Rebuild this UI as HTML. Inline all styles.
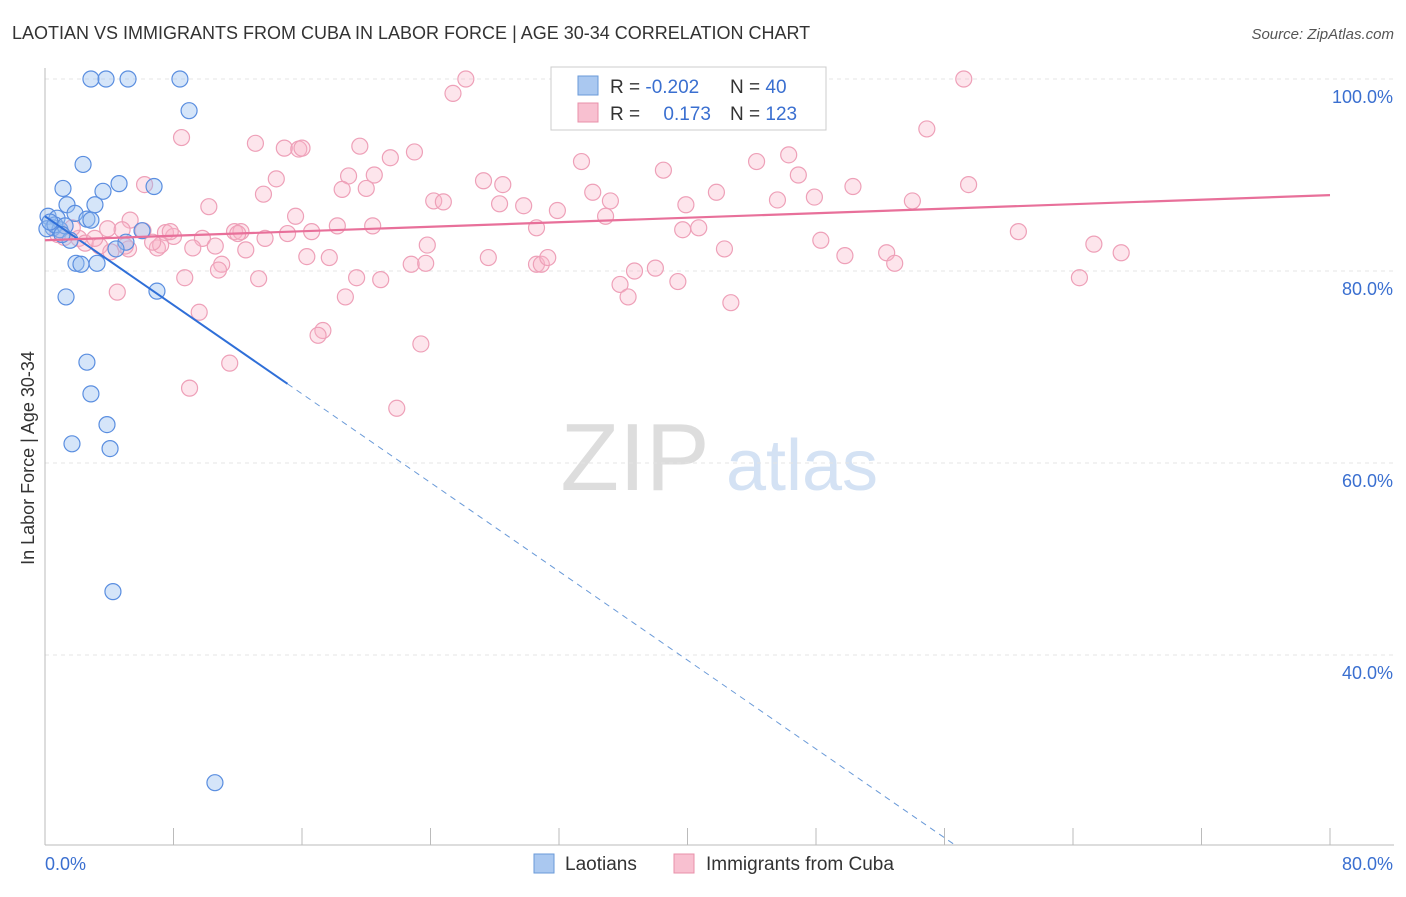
<!DOCTYPE html>
<html><head><meta charset="utf-8"><style>
body{margin:0;background:#fff;font-family:"Liberation Sans",sans-serif;}
svg text{font-family:"Liberation Sans",sans-serif;}
</style></head><body>
<svg id="chart" width="1406" height="892" xmlns="http://www.w3.org/2000/svg">
<text x="12" y="39" font-size="18" fill="#333">LAOTIAN VS IMMIGRANTS FROM CUBA IN LABOR FORCE | AGE 30-34 CORRELATION CHART</text>
<text x="1394" y="39" font-size="15" fill="#555" font-style="italic" text-anchor="end">Source: ZipAtlas.com</text>
<text x="34" y="458" font-size="18" fill="#333" text-anchor="middle" transform="rotate(-90 34 458)">In Labor Force | Age 30-34</text>
<g>
<text x="635" y="490" font-size="96" fill="#ddd" font-family="Liberation Serif" text-anchor="middle">ZIP</text>
<text x="802" y="490" font-size="72" fill="#d4e2f4" text-anchor="middle">atlas</text></g>
<g id="grid"></g><g id="axes"></g><g id="pts"></g><g id="trend"></g>
<g>
<rect x="551" y="67" width="275" height="63" fill="#fff" stroke="#ccc"/>
<rect x="578" y="76" width="20" height="19" fill="#aac8f0" stroke="#6a9ad8"/>
<rect x="578" y="103" width="20" height="19" fill="#f8c0d0" stroke="#e890aa"/>
<text x="610" y="93" font-size="19" fill="#333">R = <tspan fill="#3a6fd0">-0.202</tspan></text>
<text x="730" y="93" font-size="19" fill="#333">N = <tspan fill="#3a6fd0"> 40</tspan></text>
<text x="610" y="120" font-size="19" fill="#333">R = <tspan fill="#3a6fd0" dx="18">0.173</tspan></text>
<text x="730" y="120" font-size="19" fill="#333">N = <tspan fill="#3a6fd0">123</tspan></text>
</g>
<g>
<rect x="534" y="854" width="20" height="19" fill="#aac8f0" stroke="#6a9ad8"/>
<text x="565" y="870" font-size="19" fill="#333">Laotians</text>
<rect x="674" y="854" width="20" height="19" fill="#f8c0d0" stroke="#e890aa"/>
<text x="706" y="870" font-size="19" fill="#333">Immigrants from Cuba</text>
</g>
</svg>
<script>
const xTicks=[0,8,16,24,32,40,48,56,64,72,80];
const yTicks=[40,60,80,100];
const blueX=[2.86,3.80,5.17,8.40,8.97,2.37,1.12,3.61,4.61,6.79,1.37,3.11,0.19,0.75,1.87,2.61,2.86,0.50,0.12,0.93,1.56,5.04,6.04,4.42,1.93,2.24,3.24,1.31,6.97,2.61,2.86,3.86,1.68,4.05,4.23,10.58,0.62,1.25,0.31,1.06];
const blueY=[100,100,100,100,96.7,91.1,88.6,88.3,89.1,88.8,86.9,86.9,85.7,85.5,86.0,85.4,85.3,84.5,84.4,84.3,83.2,83.0,84.2,82.3,80.8,80.7,80.8,77.3,77.9,70.5,67.2,64.0,62.0,61.5,46.6,26.7,84.8,84.7,85.1,83.8];
const pinkX=[26.2,32.4,57.2,25.4,54.9,8.5,13.1,14.9,15.8,16.0,19.6,21.5,23.0,33.4,38.5,44.3,46.3,46.9,20.5,18.9,18.5,20.0,14.4,6.2,13.6,27.3,28.5,10.2,15.6,18.2,20.4,24.2,24.8,28.3,29.8,31.9,34.1,34.9,35.2,39.9,41.8,45.6,47.9,50.3,54.0,57.5,5.3,3.9,4.8,6.1,7.5,8.0,9.8,11.8,12.2,12.0,13.7,15.1,16.6,9.2,10.6,12.5,5.2,7.0,7.2,3.4,2.1,0.8,1.2,2.5,23.8,30.6,39.7,40.7,42.3,48.3,52.4,52.9,60.6,65.3,67.0,49.8,17.7,16.3,22.8,23.7,27.6,30.6,30.9,31.3,36.7,38.0,11.0,10.8,8.7,13.3,19.4,20.9,35.8,36.3,39.4,42.7,64.4,4.5,9.6,18.7,17.3,17.0,23.4,11.5,9.0,21.9,1.7,3.1,4.1,5.0,6.7,7.8];
const pinkY=[100,100,100,98.5,94.8,93.9,93.3,92.8,92.7,92.8,93.0,91.8,92.4,91.4,90.5,91.4,92.1,90.0,90.0,89.9,88.5,88.6,89.6,89.0,88.0,89.4,89.0,86.7,85.7,84.7,84.7,87.3,87.2,87.0,86.8,86.3,88.2,85.7,87.3,86.9,88.2,87.4,87.7,88.8,87.3,89.0,85.3,84.4,84.3,84.2,84.0,83.6,83.4,84.1,84.1,83.9,83.4,83.9,84.1,82.4,82.6,82.2,82.3,82.4,82.7,82.6,83.4,83.8,83.5,82.9,82.7,84.5,84.3,84.5,82.3,83.2,81.9,80.8,84.1,82.8,81.9,81.6,81.4,81.5,80.7,80.8,81.4,80.7,80.7,81.4,80.0,80.3,80.7,80.1,79.3,79.2,79.3,79.1,78.6,77.3,78.9,76.7,79.3,77.8,75.7,77.3,73.8,73.3,72.4,70.4,67.8,65.7,84.5,83.4,82.0,82.6,83.0,84.1];
const blueTrend=[85.7,-1.156];
const pinkTrend=[83.2,87.9];
const NS="http://www.w3.org/2000/svg";
const X0=45,X1=1330,Y100=79,PX20=192;
function sx(v){return X0+(X1-X0)*v/80;}
function sy(v){return Y100+(100-v)*PX20/20;}
function mk(tag,a,p){const e=document.createElementNS(NS,tag);for(const k in a)e.setAttribute(k,a[k]);p.appendChild(e);return e;}
const grid=document.getElementById('grid'),axes=document.getElementById('axes');
yTicks.forEach(t=>{
 const l=mk('line',{x1:45,x2:1394,y1:sy(t),y2:sy(t),stroke:'#e4e4e4','stroke-dasharray':'4 4'},grid);
 
 
 const tx=mk('text',{x:1393,y:sy(t)+24,'font-size':18,fill:'#3a6fd0','text-anchor':'end'},axes);
 tx.textContent=t.toFixed(1)+'%';
 
 
});
const ax=mk('line',{x1:45,x2:1394,y1:845,y2:845,stroke:'#bbb'},axes);


const ay=mk('line',{x1:45,x2:45,y1:68,y2:845,stroke:'#bbb'},axes);


xTicks.forEach(t=>{
 const l=mk('line',{x1:sx(t),x2:sx(t),y1:828,y2:845,stroke:'#bbb'},axes);
 
 
});
[[0,'start',45],[80,'end',1393]].forEach(([t,anc,x])=>{
 const tx=mk('text',{x:x,y:870,'font-size':18,fill:'#3a6fd0','text-anchor':anc},axes);
 tx.textContent=t.toFixed(1)+'%';
 
 
});
const pts=document.getElementById('pts');
pinkX.forEach((x,i)=>{
 const c=mk('circle',{cx:sx(x),cy:sy(pinkY[i]),r:8,fill:'rgba(248,180,200,0.35)',stroke:'#eea0b8','stroke-width':1.2},pts);
 
 
});
blueX.forEach((x,i)=>{
 const c=mk('circle',{cx:sx(x),cy:sy(blueY[i]),r:8,fill:'rgba(150,190,240,0.4)',stroke:'#5a8ee0','stroke-width':1.2},pts);
 
 
});
const tr=document.getElementById('trend');
const by=x=>blueTrend[0]+blueTrend[1]*x;
const xEnd=(20.2-blueTrend[0])/blueTrend[1];
const bs=mk('line',{x1:sx(0),y1:sy(by(0)),x2:sx(15.1),y2:sy(by(15.1)),stroke:'#2f6fd8','stroke-width':2},tr);


const bd=mk('line',{x1:sx(15.1),y1:sy(by(15.1)),x2:sx(xEnd),y2:sy(by(xEnd)),stroke:'#6a9ad8','stroke-width':1,'stroke-dasharray':'6 5'},tr);


const pl=mk('line',{x1:sx(0),y1:sy(pinkTrend[0]),x2:sx(80),y2:sy(pinkTrend[1]),stroke:'#e8709a','stroke-width':2.2},tr);


</script>
</body></html>
